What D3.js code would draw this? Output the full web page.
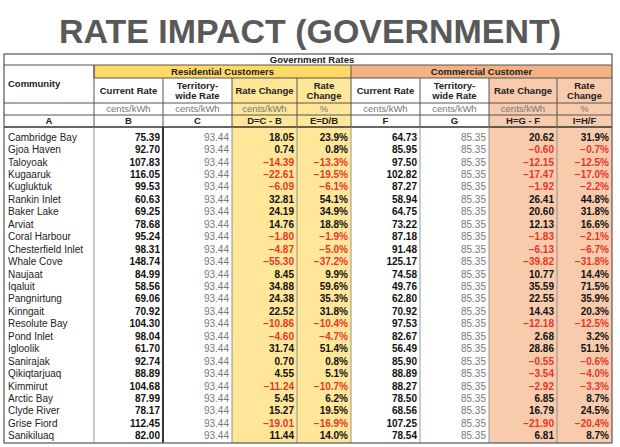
<!DOCTYPE html>
<html><head><meta charset="utf-8">
<script src="https://cdn.jsdelivr.net/npm/d3@7"></script>
<style>
html,body{margin:0;padding:0;background:#fff;}
svg{display:block;font-family:"Liberation Sans",Arial,sans-serif;}
</style></head>
<body>
<svg id="c" width="620" height="447"></svg>
<script>
const communities = ["Cambridge Bay","Gjoa Haven","Taloyoak","Kugaaruk","Kugluktuk","Rankin Inlet","Baker Lake","Arviat","Coral Harbour","Chesterfield Inlet","Whale Cove","Naujaat","Iqaluit","Pangnirtung","Kinngait","Resolute Bay","Pond Inlet","Igloolik","Sanirajak","Qikiqtarjuaq","Kimmirut","Arctic Bay","Clyde River","Grise Fiord","Sanikiluaq"];
const resCurrent = [75.39,92.70,107.83,116.05,99.53,60.63,69.25,78.68,95.24,98.31,148.74,84.99,58.56,69.06,70.92,104.30,98.04,61.70,92.74,88.89,104.68,87.99,78.17,112.45,82.00];
const resTerritory = 93.44;
const resChange = [18.05,0.74,-14.39,-22.61,-6.09,32.81,24.19,14.76,-1.80,-4.87,-55.30,8.45,34.88,24.38,22.52,-10.86,-4.60,31.74,0.70,4.55,-11.24,5.45,15.27,-19.01,11.44];
const resPct = [23.9,0.8,-13.3,-19.5,-6.1,54.1,34.9,18.8,-1.9,-5.0,-37.2,9.9,59.6,35.3,31.8,-10.4,-4.7,51.4,0.8,5.1,-10.7,6.2,19.5,-16.9,14.0];
const comCurrent = [64.73,85.95,97.50,102.82,87.27,58.94,64.75,73.22,87.18,91.48,125.17,74.58,49.76,62.80,70.92,97.53,82.67,56.49,85.90,88.89,88.27,78.50,68.56,107.25,78.54];
const comTerritory = 85.35;
const comChange = [20.62,-0.60,-12.15,-17.47,-1.92,26.41,20.60,12.13,-1.83,-6.13,-39.82,10.77,35.59,22.55,14.43,-12.18,2.68,28.86,-0.55,-3.54,-2.92,6.85,16.79,-21.90,6.81];
const comPct = [31.9,-0.7,-12.5,-17.0,-2.2,44.8,31.8,16.6,-2.1,-6.7,-31.8,14.4,71.5,35.9,20.3,-12.5,3.2,51.1,-0.6,-4.0,-3.3,8.7,24.5,-20.4,8.7];

const title = "RATE IMPACT (GOVERNMENT)";
const topHeader = "Government Rates";
const groupLabels = ["Residential Customers","Commercial Customer"];
const colHeaders = [["Community"],["Current Rate"],["Territory-","wide Rate"],["Rate Change"],["Rate","Change"],["Current Rate"],["Territory-","wide Rate"],["Rate Change"],["Rate","Change"]];
const unitLabels = ["","cents/kWh","cents/kWh","cents/kWh","%","cents/kWh","cents/kWh","cents/kWh","%"];
const letterLabels = ["A","B","C","D=C - B","E=D/B","F","G","H=G - F","I=H/F"];

const svg = d3.select("#c");
const edges = [4,94,163,232,297,351,420,489,557,612];
const colX = d3.scaleOrdinal().domain(d3.range(10)).range(edges);
const yGov=[54,65], yGroup=[65,78], yHead=[78,103], yUnit=[103,115], yLet=[115,127], yData=[127,443];
const yRow = d3.scaleBand().domain(communities).range([131,442]);

const YEL="#ffe699", YEL2="#ffd966", ORG="#f8cbad", ORG2="#f4b183";
const RED="#e8352a", BORDER="#555";

svg.append("text").attr("x",310).attr("y",43).attr("text-anchor","middle")
  .attr("font-size",34).attr("font-weight","bold").attr("fill","#595959")
  .attr("textLength",502).attr("lengthAdjust","spacingAndGlyphs").text(title);

// backgrounds
const bg = svg.append("g");
function rect(x0,x1,y0,y1,fill){bg.append("rect").attr("x",x0).attr("y",y0).attr("width",x1-x0).attr("height",y1-y0).attr("fill",fill);}
rect(colX(1),colX(5),yGroup[0],yGroup[1],YEL2);
rect(colX(5),colX(9),yGroup[0],yGroup[1],ORG2);
rect(colX(3),colX(5),yHead[0],yData[1],YEL);
rect(colX(7),colX(9),yHead[0],yData[1],ORG);

// lines
const ln = svg.append("g");
function line(x0,y0,x1,y1,c,w){ln.append("line").attr("x1",x0).attr("y1",y0).attr("x2",x1).attr("y2",y1).attr("stroke",c).attr("stroke-width",w);}
line(edges[0],yGov[1],edges[9],yGov[1],BORDER,1);
line(edges[1],yGroup[1],edges[9],yGroup[1],BORDER,1);
line(edges[0],yHead[1],edges[9],yHead[1],BORDER,1);
line(edges[0],yUnit[1],edges[9],yUnit[1],BORDER,1);
line(edges[0],yLet[1],edges[9],yLet[1],"#333",1.6);
[1,5].forEach(i=>line(edges[i],yGroup[0],edges[i],yGroup[1],BORDER,1));
for(let i=1;i<9;i++){ line(edges[i],yHead[0],edges[i],yLet[1],BORDER,1); }
line(edges[1],yGroup[0],edges[1],yHead[0],BORDER,1);
[1,3,4,5,6,7,8].forEach(i=>line(edges[i],yData[0],edges[i],yData[1],"#8a8a8a",0.9));
line(edges[2],yData[0],edges[2],yData[1],"#222",1.8);
svg.append("rect").attr("x",edges[0]).attr("y",yGov[0]).attr("width",edges[9]-edges[0]).attr("height",yData[1]-yGov[0])
  .attr("fill","none").attr("stroke",BORDER).attr("stroke-width",1.2);

// header texts
const ht = svg.append("g").attr("font-weight","bold").attr("font-size",9.5).attr("fill","#222");
ht.append("text").attr("x",(edges[0]+edges[9])/2+4).attr("y",(yGov[0]+yGov[1])/2).attr("dy","0.35em").attr("text-anchor","middle").text(topHeader);
ht.append("text").attr("x",(edges[1]+edges[5])/2).attr("y",(yGroup[0]+yGroup[1])/2).attr("dy","0.35em").attr("text-anchor","middle").text(groupLabels[0]);
ht.append("text").attr("x",(edges[5]+edges[9])/2).attr("y",(yGroup[0]+yGroup[1])/2).attr("dy","0.35em").attr("text-anchor","middle").text(groupLabels[1]);
ht.append("text").attr("x",8).attr("y",84).attr("dy","0.35em").text(colHeaders[0][0]);
for(let i=1;i<9;i++){
  const lines=colHeaders[i], cx=(edges[i]+edges[i+1])/2, cy=(yHead[0]+yHead[1])/2;
  lines.forEach((t,k)=>ht.append("text").attr("x",cx).attr("y",cy+(k-(lines.length-1)/2)*10.5).attr("dy","0.35em").attr("text-anchor","middle").text(t));
}
const ut = svg.append("g").attr("font-size",9.5).attr("fill","#777");
for(let i=1;i<9;i++) ut.append("text").attr("x",(edges[i]+edges[i+1])/2).attr("y",(yUnit[0]+yUnit[1])/2).attr("dy","0.35em").attr("text-anchor","middle").text(unitLabels[i]);
const lt = svg.append("g").attr("font-size",9.5).attr("font-weight","bold").attr("fill","#222");
for(let i=0;i<9;i++) lt.append("text").attr("x",(edges[i]+edges[i+1])/2).attr("y",(yLet[0]+yLet[1])/2).attr("dy","0.35em").attr("text-anchor","middle").text(letterLabels[i]);

// data
const rows = communities.map((c,i)=>({c,i}));
const g = svg.append("g").attr("font-size",10);
const f2 = d3.format(".2f"), f1 = v=>d3.format(".1f")(v)+"%";
rows.forEach(r=>{
  const y = yRow(r.c)+yRow.bandwidth()/2;
  const cells = [
    [resCurrent[r.i],f2,2,true,"#111"],
    [resTerritory,f2,3,false,"#777"],
    [resChange[r.i],f2,4,true,null],
    [resPct[r.i],f1,5,true,null],
    [comCurrent[r.i],f2,6,true,"#111"],
    [comTerritory,f2,7,false,"#777"],
    [comChange[r.i],f2,8,true,null],
    [comPct[r.i],f1,9,true,null]
  ];
  g.append("text").attr("x",8).attr("y",y).attr("dy","0.35em").attr("fill","#222").text(r.c);
  cells.forEach(([v,fmt,ei,bold,col])=>{
    g.append("text").attr("x",edges[ei]-3).attr("y",y).attr("dy","0.35em").attr("text-anchor","end")
      .attr("font-weight",bold?"bold":"normal").attr("fill",col||(v<0?RED:"#111")).text(fmt(v));
  });
});
</script>
</body></html>
